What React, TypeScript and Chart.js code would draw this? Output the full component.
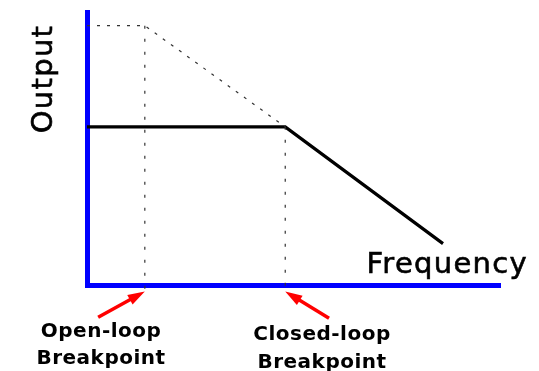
import React, { useEffect, useRef } from "react";
import { Chart, registerables } from "chart.js";

Chart.register(...registerables);

// Frequency (x, 0..100) and output (y, 0..100) in arbitrary units
const openLoopX = [0, 14, 48];
const openLoopY = [95, 95, 58];
const closedLoopX = [0, 48, 86.2];
const closedLoopY = [58, 58, 15.3];
const breakpointX = [14, 48];
const breakpointTopY = [95, 58];
const guideBottomY = -2.2;
const breakpointLabels = [["Open-loop", "Breakpoint"], ["Closed-loop", "Breakpoint"]];
const arrowTailX = [2.7, 58.6];
const arrowTailY = [-11.6, -12];
const labelCenterX = [3.4, 56.9];
const xTitle = "Frequency";
const yTitle = "Output";

const toPts = (xs: number[], ys: number[]) => xs.map((x, i) => ({ x, y: ys[i] }));

const annotPlugin = {
  id: "annot",
  afterDatasetsDraw(chart: any) {
    const { ctx, scales } = chart;
    const xs = scales.x;
    const ys = scales.y;
    ctx.save();
    // arrows
    ctx.strokeStyle = "#ff0000";
    ctx.fillStyle = "#ff0000";
    for (let i = 0; i < breakpointX.length; i++) {
      const tx = xs.getPixelForValue(arrowTailX[i]);
      const ty = ys.getPixelForValue(arrowTailY[i]);
      const hx = xs.getPixelForValue(breakpointX[i]);
      const hy = ys.getPixelForValue(guideBottomY);
      const ang = Math.atan2(hy - ty, hx - tx);
      const len = 17;
      const hw = 5.5;
      const bx = hx - Math.cos(ang) * len;
      const by = hy - Math.sin(ang) * len;
      ctx.lineWidth = 3.5;
      ctx.beginPath();
      ctx.moveTo(tx, ty);
      ctx.lineTo(bx + Math.cos(ang) * 2, by + Math.sin(ang) * 2);
      ctx.stroke();
      ctx.beginPath();
      ctx.moveTo(hx, hy);
      ctx.lineTo(bx + Math.sin(ang) * hw, by - Math.cos(ang) * hw);
      ctx.lineTo(bx - Math.sin(ang) * hw, by + Math.cos(ang) * hw);
      ctx.closePath();
      ctx.fill();
    }
    // breakpoint labels
    ctx.fillStyle = "#000";
    ctx.font = "bold 20px 'DejaVu Sans'";
    ctx.textAlign = "center";
    ctx.textBaseline = "alphabetic";
    (ctx as any).letterSpacing = "0.5px";
    const base = [[337, 364], [340, 368]];
    for (let i = 0; i < breakpointLabels.length; i++) {
      const cx = xs.getPixelForValue(labelCenterX[i]);
      breakpointLabels[i].forEach((t, j) => ctx.fillText(t, cx, base[i][j]));
    }
    // axis titles
    ctx.font = "29px 'DejaVu Sans'";
    (ctx as any).letterSpacing = "1.3px";
    ctx.lineWidth = 0.6;
    ctx.strokeStyle = "#000";
    ctx.textAlign = "right";
    ctx.fillText(xTitle, 528, 273);
    ctx.strokeText(xTitle, 528, 273);
    ctx.save();
    ctx.translate(52, 79);
    ctx.rotate(-Math.PI / 2);
    ctx.textAlign = "center";
    ctx.fillText(yTitle, 0, 0);
    ctx.strokeText(yTitle, 0, 0);
    ctx.restore();
    ctx.restore();
  },
};

export default function App() {
  const ref = useRef<HTMLCanvasElement>(null);
  useEffect(() => {
    if (!ref.current) return;
    const dotted = { borderColor: "#333", borderWidth: 1.2, pointRadius: 0, showLine: true, fill: false };
    const chart = new Chart(ref.current, {
      type: "scatter",
      data: {
        datasets: [
          ...breakpointX.map((bx, i) => ({
            ...dotted,
            data: [{ x: bx, y: breakpointTopY[i] }, { x: bx, y: guideBottomY }],
            borderDash: [3, 10],
            clip: false as any,
          })),
          { ...dotted, data: toPts(openLoopX, openLoopY), borderDash: [3, 7] },
          {
            data: toPts(closedLoopX, closedLoopY),
            borderColor: "#000",
            borderWidth: 3.2,
            pointRadius: 0,
            showLine: true,
            fill: false,
          },
        ],
      },
      options: {
        animation: false,
        responsive: false,
        events: [],
        layout: { padding: { left: 87, right: 39, top: 12, bottom: 85.5 } },
        plugins: { legend: { display: false }, tooltip: { enabled: false } },
        scales: {
          x: {
            type: "linear",
            min: 0,
            max: 100,
            grid: { display: false, drawTicks: false },
            ticks: { display: false },
            border: { display: true, color: "#0000ff", width: 5 },
          },
          y: {
            type: "linear",
            min: 0,
            max: 100,
            grid: { display: false, drawTicks: false },
            ticks: { display: false },
            border: { display: true, color: "#0000ff", width: 5 },
          },
        },
      },
      plugins: [annotPlugin],
    });
    return () => chart.destroy();
  }, []);
  return (
    <div style={{ position: "fixed", left: 0, top: 0, width: 539, height: 371, background: "#fff" }}>
      <canvas ref={ref} width={539} height={371} />
    </div>
  );
}
